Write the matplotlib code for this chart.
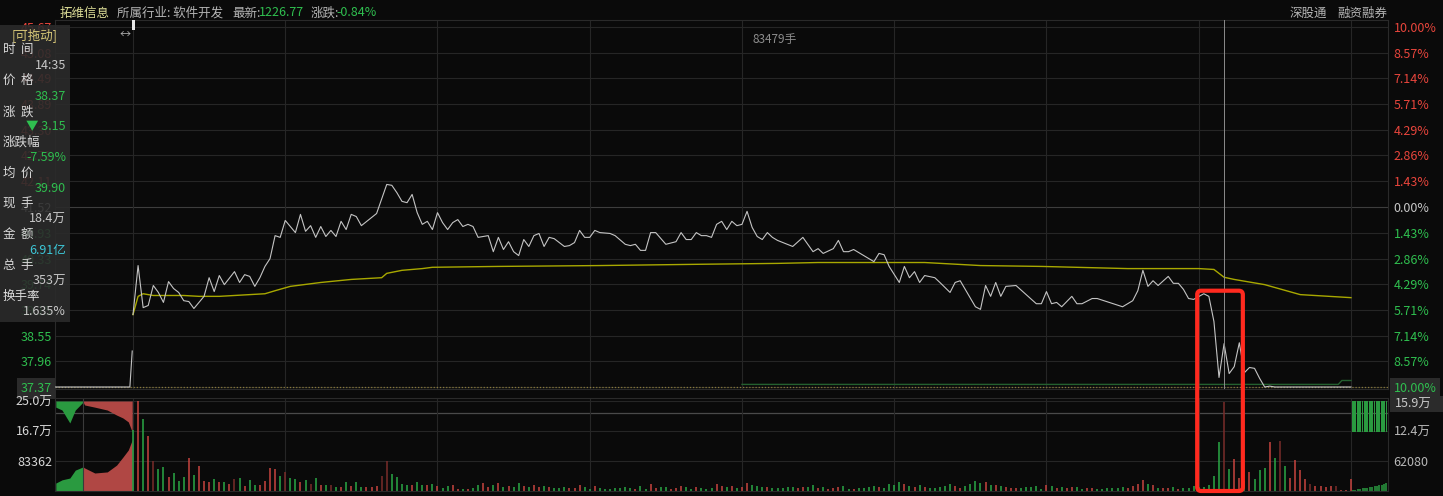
import numpy as np
import matplotlib.pyplot as plt
from matplotlib.patches import Rectangle, FancyBboxPatch

plt.rcParams['font.family'] = ['Noto Sans CJK SC', 'DejaVu Sans']

W, H = 1443, 496
BG = '#0a0a0a'
GRID = '#262626'
RED = '#e8453c'
GREEN = '#2fbf4f'
GREY = '#c8c8c8'

# === data ===
pre_close = 41.52
limit_down = 37.37

# price line, minutes after 9:30 (lunch removed, 0..240)
minute = [0, 1, 2, 3, 4, 5, 6, 7, 8, 9, 10, 11, 12, 14, 15, 16, 17, 18, 20, 21,
          22, 23, 24, 25, 26, 27, 28, 29, 30, 32, 33, 34, 35, 36, 37, 38, 39, 40, 41, 42,
          43, 44, 45, 48, 50, 51, 52, 53, 54, 55, 56, 57, 58, 59, 60, 61, 62, 63, 64, 65,
          66, 67, 68, 70, 71, 72, 73, 74, 75, 76, 77, 78, 79, 80, 81, 82, 83, 85, 86, 87,
          88, 89, 90, 91, 92, 94, 95, 97, 98, 99, 100, 101, 102, 103, 105, 107, 108, 109, 110, 111,
          112, 113, 114, 115, 116, 117, 118, 119, 120, 121, 122, 123, 124, 125, 126, 127, 130, 132, 134, 135,
          136, 138, 139, 140, 141, 142, 143, 146, 147, 148, 149, 151, 152, 153, 154, 155, 156, 158, 159, 161,
          162, 163, 166, 167, 168, 169, 170, 171, 172, 174, 178, 179, 180, 181, 182, 183, 185, 186, 187, 189,
          190, 195, 197, 198, 199, 200, 201, 202, 204, 205, 206, 207, 208, 209, 211, 212, 213, 214, 215, 216,
          217, 218, 219, 220, 221, 222, 223, 224, 225, 240]
price = [39.04, 40.17, 39.20, 39.25, 39.71, 39.55, 39.32, 39.80, 39.64, 39.55, 39.36, 39.34, 39.18, 39.46, 39.89, 39.57, 39.94, 39.73, 40.03, 39.78,
         39.96, 39.92, 39.69, 39.89, 40.15, 40.33, 40.86, 40.82, 41.21, 40.93, 41.35, 40.96, 41.09, 40.82, 41.07, 40.84, 40.98, 40.84, 41.19, 41.00,
         41.35, 41.30, 41.09, 41.37, 42.04, 42.02, 41.85, 41.65, 41.62, 41.81, 41.39, 41.12, 41.19, 41.00, 41.39, 41.16, 41.00, 41.16, 41.23, 41.07,
         41.12, 41.07, 40.82, 40.86, 40.49, 40.82, 40.54, 40.72, 40.49, 40.40, 40.77, 40.61, 40.86, 40.91, 40.61, 40.82, 40.79, 40.61, 40.63, 40.70,
         40.98, 40.82, 40.82, 40.98, 40.93, 40.91, 40.86, 40.66, 40.63, 40.66, 40.52, 40.52, 40.93, 40.93, 40.66, 40.72, 40.93, 40.77, 40.77, 40.93,
         40.86, 40.86, 40.82, 41.12, 41.19, 41.00, 41.19, 41.09, 41.12, 41.42, 41.05, 40.84, 40.77, 40.93, 40.82, 40.75, 40.61, 40.82, 40.49, 40.56,
         40.45, 40.56, 40.75, 40.49, 40.49, 40.54, 40.47, 40.26, 40.45, 40.42, 40.15, 39.78, 40.15, 39.89, 40.03, 39.78, 39.94, 39.89, 39.78, 39.55,
         39.78, 39.82, 39.22, 39.16, 39.71, 39.46, 39.78, 39.46, 39.69, 39.71, 39.29, 39.29, 39.57, 39.29, 39.32, 39.22, 39.46, 39.29, 39.29, 39.41,
         39.41, 39.22, 39.36, 39.59, 40.06, 39.69, 39.82, 39.71, 39.92, 39.76, 39.76, 39.62, 39.41, 39.39, 39.52, 39.46, 38.88, 37.59, 38.37, 37.68,
         37.84, 38.39, 37.70, 37.82, 37.80, 37.57, 37.37, 37.39, 37.37, 37.37]

avg_minute = [0, 1, 2, 4, 10, 13, 17, 26, 28, 31, 37, 43, 49, 50, 53, 57, 59, 72, 92, 112,
              127, 135, 151, 156, 167, 179, 196, 210, 213, 215, 217, 223, 230, 240]
avg_price = [39.04, 39.46, 39.52, 39.48, 39.48, 39.46, 39.46, 39.52, 39.59, 39.69, 39.78, 39.85, 39.89, 39.99, 40.06, 40.10, 40.13, 40.15, 40.17, 40.20,
             40.22, 40.24, 40.24, 40.24, 40.17, 40.15, 40.10, 40.10, 40.08, 39.90, 39.85, 39.73, 39.50, 39.43]

# thin green line near the limit-down price
seal_minute = [120, 237.5, 238.2, 240]
seal_price = [37.43, 37.43, 37.52, 37.52]

# call auction 9:15-9:25 (minutes after 9:15), volumes on the left scale
auc_t = [0.1, 0.9, 1.9, 2.6, 3.6, 3.8, 5.1, 6.7, 7.9, 8.7, 9.4, 9.9]
auc_unmatched = [17000, 25000, 61000, 25000, 3000, 11000, 17000, 25000, 39000, 47000, 58000, 86000]
auc_matched = [22000, 31000, 36000, 58000, 67000, 64000, 50000, 53000, 72000, 94000, 114000, 142000]
auc_price_t = [0.0, 9.6, 9.9]
auc_price = [37.37, 37.37, 38.20]

# volume per minute (hands), minutes 0..240; r = up, g = down, d = dark red
vol = [126000, 186000, 149000, 114000, 62000, 45000, 50000, 29000, 37000, 21000,
       29000, 68000, 33000, 52000, 21000, 19000, 25000, 19000, 19000, 14000,
       25000, 27000, 10000, 23000, 12000, 12000, 21000, 48000, 46000, 31000,
       39000, 27000, 25000, 19000, 23000, 14000, 27000, 12000, 12000, 12000,
       8000, 8000, 19000, 10000, 19000, 8000, 8000, 8000, 10000, 31000,
       62000, 35000, 29000, 14000, 12000, 12000, 19000, 12000, 12000, 14000,
       10000, 6000, 10000, 12000, 4000, 4000, 4000, 6000, 12000, 17000,
       8000, 12000, 17000, 8000, 10000, 8000, 17000, 10000, 8000, 12000,
       8000, 10000, 8000, 6000, 6000, 8000, 6000, 6000, 12000, 8000,
       4000, 10000, 6000, 4000, 4000, 6000, 6000, 8000, 6000, 4000,
       10000, 4000, 14000, 6000, 8000, 8000, 4000, 6000, 10000, 8000,
       4000, 8000, 6000, 4000, 6000, 14000, 10000, 8000, 10000, 6000,
       8000, 16000, 12000, 10000, 8000, 8000, 6000, 6000, 6000, 8000,
       8000, 6000, 8000, 8000, 12000, 6000, 8000, 4000, 6000, 8000,
       10000, 4000, 4000, 6000, 6000, 8000, 10000, 8000, 6000, 14000,
       12000, 18000, 14000, 10000, 8000, 12000, 8000, 6000, 6000, 8000,
       10000, 14000, 10000, 6000, 10000, 14000, 20000, 16000, 18000, 12000,
       12000, 10000, 8000, 6000, 6000, 6000, 8000, 8000, 10000, 4000,
       12000, 10000, 6000, 8000, 6000, 8000, 8000, 4000, 6000, 6000,
       4000, 4000, 6000, 6000, 6000, 8000, 6000, 10000, 14000, 22000,
       14000, 12000, 6000, 6000, 6000, 8000, 4000, 6000, 6000, 10000,
       8000, 8000, 12000, 31000, 101000, 184000, 46000, 66000, 27000, 20000,
       39000, 25000, 43000, 48000, 101000, 68000, 103000, 52000, 27000, 64000,
       43000, 25000, 14000, 10000, 10000, 8000, 10000, 10000, 2000, 2000, 25000]
vol_dir = ("grgrdggrgg" "grgrrrgrgr" "dgrggrrrrg" "dggrgdgrgd" "grgrggrrrd"
           "dggggrggrg" "rggrrgrggr" "rgrgrggrgr" "rgrgggrrrg" "grgggggggr"
           "ggrrggrrrg" "grgggrrgrg" "rrgggrgggg" "grrggrgrrr" "ggrggggrgg"
           "ggrgrgrggg" "ggrrggggrg" "rgrrrggggg" "rgrgrrggrr" "ggggggrrrr"
           "grgrrgrggg" "gggggdgrrg" "rgggrgdgrr" "rrdrrrrdrrr")

# after-hours block (left scale)
after_unmatched = [86000, 86000, 86000, 86000, 86000, 86000, 86000, 86000,
                   86000, 86000, 86000, 86000, 86000, 86000, 86000]
after_matched = [3000, 4000, 5000, 6000, 7000, 8000, 9000, 11000,
                 12000, 13000, 15000, 16000, 18000, 20000, 22000]

price_levels = [45.67, 45.08, 44.49, 43.89, 43.30, 42.71, 42.11, 41.52,
                40.93, 40.33, 39.74, 39.15, 38.55, 37.96, 37.37]
pct_labels = ['10.00%', '8.57%', '7.14%', '5.71%', '4.29%', '2.86%', '1.43%', '0.00%',
              '1.43%', '2.86%', '4.29%', '5.71%', '7.14%', '8.57%', '10.00%']
vol_left_ticks = [250000, 166724, 83362]
vol_left_labels = ['25.0万', '16.7万', '83362']
vol_right_ticks = [124160, 62080]
vol_right_labels = ['12.4万', '62080']

info_rows = [('时  间', '14:35', GREY), ('价  格', '38.37', GREEN), ('涨  跌', '▼ 3.15', GREEN),
             ('涨跌幅', '-7.59%', GREEN), ('均  价', '39.90', GREEN), ('现  手', '18.4万', GREY),
             ('金  额', '6.91亿', '#3cc6d6'), ('总  手', '353万', GREY), ('换手率', '1.635%', GREY)]

# === layout helpers (pixel boxes) ===
def px_rect(x0, y0, x1, y1):
    return [x0 / W, 1 - y1 / H, (x1 - x0) / W, (y1 - y0) / H]

AUC_X0, AUC_STEP = -15.37, 1.537     # auction minutes -> chart units
SCALE = 62080 / 83362                # left volume scale -> right scale

fig = plt.figure(figsize=(W / 100, H / 100), dpi=100, facecolor=BG)

# === price panel ===
ax = fig.add_axes(px_rect(55, 20, 1388, 389), facecolor=BG)
ax.set_xlim(-15.37, 247.3)
ax.set_ylim(37.3239, 45.8314)
for p in price_levels:
    ax.axhline(p, color='#3d3d3d' if p == pre_close else GRID, lw=0.8, zorder=0)
for m in range(0, 241, 30):
    ax.axvline(m, color=GRID, lw=0.8, zorder=0)
ax.axhline(limit_down, color='#8a7a3a', lw=0.9, ls=(0, (1, 1.5)), zorder=1)
ax.plot(seal_minute, seal_price, color='#24602f', lw=1.0, zorder=2)
ax.plot(avg_minute, avg_price, color='#a8a800', lw=1.0, zorder=3)
ax.plot(minute, price, color='#c4c4c4', lw=0.8, zorder=4)
ax.plot([AUC_X0 + t * AUC_STEP for t in auc_price_t], auc_price, color='#c4c4c4', lw=0.8, zorder=4)
ax.axvline(215, color='#8c8c8c', lw=0.7, zorder=5)

ax.set_xticks([])
ax.set_yticks(price_levels)
ax.set_yticklabels([f'{p:.2f}' for p in price_levels])
ax.tick_params(axis='y', length=0, pad=2, labelsize=9)
for lab, p in zip(ax.get_yticklabels(), price_levels):
    lab.set_color(RED if p > pre_close else (GREY if p == pre_close else GREEN))
ax.get_yticklabels()[-1].set_bbox(dict(facecolor='#2b2b2b', edgecolor='none', boxstyle='square,pad=0.3'))
for s in ax.spines.values():
    s.set_color('#2a2a2a')

axr = ax.twinx()
axr.set_ylim(ax.get_ylim())
axr.set_yticks(price_levels)
axr.set_yticklabels(pct_labels)
axr.tick_params(axis='y', length=0, pad=4, labelsize=9)
for lab, p in zip(axr.get_yticklabels(), price_levels):
    lab.set_color(RED if p > pre_close else (GREY if p == pre_close else GREEN))
axr.get_yticklabels()[-1].set_bbox(dict(facecolor='#2b2b2b', edgecolor='none', boxstyle='square,pad=0.3'))
for s in axr.spines.values():
    s.set_visible(False)

# === volume panel ===
vax = fig.add_axes(px_rect(55, 398, 1388, 491), facecolor=BG)
vax.set_xlim(-15.37, 247.3)
vax.set_ylim(0, 192448)
top = 250000 * SCALE
for v in [top, 166724 * SCALE, 83362 * SCALE]:
    vax.axhline(v, color=GRID, lw=0.8, zorder=0)
vax.axhline(161400, color='#4a4a4a', lw=0.9, zorder=0)
for m in range(0, 241, 30):
    vax.axvline(m, color=GRID, lw=0.8, zorder=0)

colors = {'r': '#c8443f', 'g': '#2aa846', 'd': '#7a2c2a'}
vax.vlines(np.arange(len(vol)), 0, vol, colors=[colors[c] for c in vol_dir], lw=1.1, zorder=2)

ax_auc = [AUC_X0 + t * AUC_STEP for t in auc_t]
hang = [top - u * SCALE for u in auc_unmatched]
matched = [m * SCALE for m in auc_matched]
green_part = [t <= 3.6 for t in auc_t]
red_part = [t >= 3.6 for t in auc_t]
vax.fill_between(ax_auc, hang, top, where=green_part, color='#2a9a40', lw=0)
vax.fill_between(ax_auc, hang, top, where=red_part, color='#b04744', lw=0)
vax.fill_between(ax_auc, 0, matched, where=green_part, color='#2a9a40', lw=0)
vax.fill_between(ax_auc, 0, matched, where=red_part, color='#b04744', lw=0)
vax.axvline(AUC_X0 + 3.6 * AUC_STEP, color='#3a3a3a', lw=0.8)

after_x = np.linspace(240.4, 247.0, len(after_unmatched))
vax.bar(after_x, [u * SCALE for u in after_unmatched], bottom=[top - u * SCALE for u in after_unmatched],
        width=0.36, color='#2a9a40', lw=0)
vax.vlines(after_x, 0, [m * SCALE for m in after_matched], colors='#2a9a40', lw=1.1)

vax.set_xticks([])
vax.set_yticks([v * SCALE for v in vol_left_ticks])
vax.set_yticklabels(vol_left_labels)
vax.tick_params(axis='y', length=0, pad=2, labelsize=9, labelcolor='#d8d8d8')
for s in vax.spines.values():
    s.set_color('#2a2a2a')
vaxr = vax.twinx()
vaxr.set_ylim(vax.get_ylim())
vaxr.set_yticks(vol_right_ticks)
vaxr.set_yticklabels(vol_right_labels)
vaxr.tick_params(axis='y', length=0, pad=4, labelsize=9, labelcolor='#b8b8b8')
for s in vaxr.spines.values():
    s.set_visible(False)

# === overlay: header, info panel, highlight box ===
ov = fig.add_axes([0, 0, 1, 1])
ov.set_xlim(0, W)
ov.set_ylim(H, 0)
ov.axis('off')

def txt(x, y, s, color, ha='left', size=9, **kw):
    ov.text(x, y, s, color=color, ha=ha, va='center', fontsize=size, **kw)

txt(60, 13, '拓维信息', '#dcdc96')
txt(117, 13, '所属行业: 软件开发', '#b4b4b4')
txt(232, 13, '最新:', '#b4b4b4')
txt(259, 13, '1226.77', GREEN)
txt(311, 13, '涨跌:', '#b4b4b4')
txt(336, 13, '-0.84%', GREEN)
txt(1290, 13, '深股通', '#b4b4b4')
txt(1337, 13, '融资融券', '#b4b4b4')
txt(775, 40, '83479手', '#8c8c8c', ha='center', size=8.5)
ov.add_patch(Rectangle((1390, 396), 53, 16, facecolor='#2b2b2b', edgecolor='none'))
txt(1395, 404, '15.9万', '#c8c8c8')

ov.add_patch(Rectangle((131.5, 20), 3, 10, facecolor='#e8e8e8', edgecolor='none'))
txt(125, 35, '↔', '#b0b0b0', ha='center', size=8)

ov.add_patch(Rectangle((0, 25), 70, 297, facecolor='#2b2b2b', edgecolor='none', alpha=0.9))
txt(35, 35, '[可拖动]', '#d8c878', ha='center')
for i, (name, value, col) in enumerate(info_rows):
    y = 50 + i * 30.8
    txt(3, y, name, '#d8d8d8')
    txt(66, y + 15.5, value, col, ha='right')

# red highlight box around the afternoon sell-off, located from data
x0, y0 = ax.transData.transform((209.7, 39.59))
x1, _ = ax.transData.transform((218.7, 39.59))
_, yb = vax.transData.transform((0, 0))
ov.add_patch(FancyBboxPatch((x0, H - y0), x1 - x0, y0 - yb, boxstyle='round,pad=0,rounding_size=4',
                            facecolor='none', edgecolor='#ff2a1f', lw=3))

fig.savefig('out.png', dpi=100, facecolor=BG)
